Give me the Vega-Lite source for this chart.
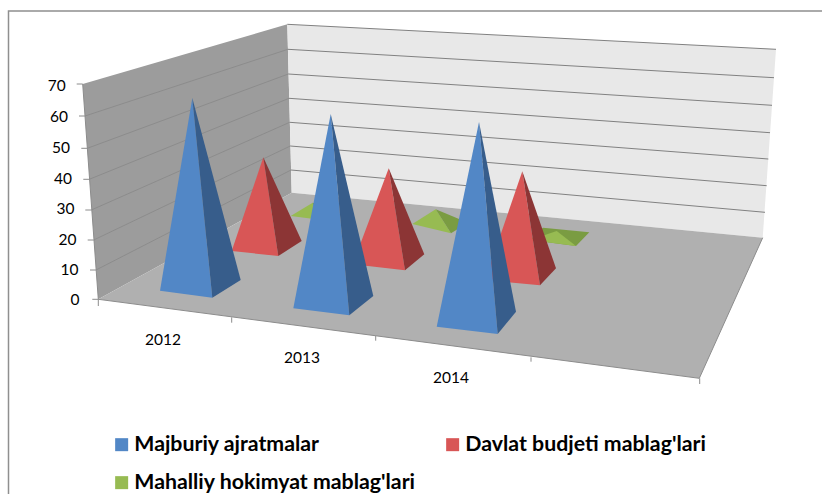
{"$schema":"https://vega.github.io/schema/vega-lite/v6.json","width":822,"height":494,"autosize":{"type":"none"},"padding":0,"background":"#ffffff","view":{"stroke":null},
"datasets":{
"surfaces":[
{"id":"left","face":"wall-left","i":0,"x":82.7,"y":84},{"id":"left","face":"wall-left","i":1,"x":287.3,"y":24.3},{"id":"left","face":"wall-left","i":2,"x":291.7,"y":192.7},{"id":"left","face":"wall-left","i":3,"x":98.3,"y":299.3},
{"id":"back","face":"wall-back","i":0,"x":287.3,"y":24.3},{"id":"back","face":"wall-back","i":1,"x":776,"y":49.3},{"id":"back","face":"wall-back","i":2,"x":762.7,"y":237.7},{"id":"back","face":"wall-back","i":3,"x":291.7,"y":192.7},
{"id":"floor","face":"floor","i":0,"x":98.3,"y":299.3},{"id":"floor","face":"floor","i":1,"x":291.7,"y":192.7},{"id":"floor","face":"floor","i":2,"x":762.7,"y":237.7},{"id":"floor","face":"floor","i":3,"x":699.3,"y":378.3}
],
"lines":[
{"id":"F1","kind":"frame","i":0,"x":8.5,"y":494},{"id":"F1","kind":"frame","i":1,"x":8.5,"y":11},{"id":"F1","kind":"frame","i":2,"x":822,"y":11},
{"id":"L60","kind":"side","i":0,"x":85,"y":116},{"id":"L60","kind":"side","i":1,"x":287.9,"y":49.3},
{"id":"L50","kind":"side","i":0,"x":87.3,"y":148.3},{"id":"L50","kind":"side","i":1,"x":288.3,"y":74},
{"id":"L40","kind":"side","i":0,"x":89.3,"y":179.3},{"id":"L40","kind":"side","i":1,"x":289,"y":98.3},
{"id":"L30","kind":"side","i":0,"x":91.3,"y":210},{"id":"L30","kind":"side","i":1,"x":289.7,"y":122.3},
{"id":"L20","kind":"side","i":0,"x":93.7,"y":240},{"id":"L20","kind":"side","i":1,"x":290.3,"y":146},
{"id":"L10","kind":"side","i":0,"x":96,"y":270},{"id":"L10","kind":"side","i":1,"x":291,"y":170},
{"id":"B70","kind":"back","i":0,"x":287.3,"y":24.3},{"id":"B70","kind":"back","i":1,"x":776,"y":49.3},
{"id":"B60","kind":"back","i":0,"x":287.9,"y":49.3},{"id":"B60","kind":"back","i":1,"x":774,"y":77.7},
{"id":"B50","kind":"back","i":0,"x":288.3,"y":74},{"id":"B50","kind":"back","i":1,"x":772,"y":105.3},
{"id":"B40","kind":"back","i":0,"x":289,"y":98.3},{"id":"B40","kind":"back","i":1,"x":770,"y":132.7},
{"id":"B30","kind":"back","i":0,"x":289.7,"y":122.3},{"id":"B30","kind":"back","i":1,"x":768.3,"y":159},
{"id":"B20","kind":"back","i":0,"x":290.3,"y":146},{"id":"B20","kind":"back","i":1,"x":766.7,"y":185.7},
{"id":"B10","kind":"back","i":0,"x":291,"y":170},{"id":"B10","kind":"back","i":1,"x":765,"y":212.3},
{"id":"XA","kind":"axis","i":0,"x":98.3,"y":299.3},{"id":"XA","kind":"axis","i":1,"x":699.3,"y":378.3},
{"id":"XB","kind":"axis","i":0,"x":699.3,"y":378.3},{"id":"XB","kind":"axis","i":1,"x":762.7,"y":237.7},
{"id":"YA","kind":"axis","i":0,"x":82.7,"y":84},{"id":"YA","kind":"axis","i":1,"x":98.3,"y":299.3},
{"id":"T70","kind":"axis","i":0,"x":76.7,"y":84},{"id":"T70","kind":"axis","i":1,"x":82.7,"y":84},
{"id":"T60","kind":"axis","i":0,"x":79,"y":116},{"id":"T60","kind":"axis","i":1,"x":85,"y":116},
{"id":"T50","kind":"axis","i":0,"x":81.3,"y":148.3},{"id":"T50","kind":"axis","i":1,"x":87.3,"y":148.3},
{"id":"T40","kind":"axis","i":0,"x":83.3,"y":179.3},{"id":"T40","kind":"axis","i":1,"x":89.3,"y":179.3},
{"id":"T30","kind":"axis","i":0,"x":85.3,"y":210},{"id":"T30","kind":"axis","i":1,"x":91.3,"y":210},
{"id":"T20","kind":"axis","i":0,"x":87.7,"y":240},{"id":"T20","kind":"axis","i":1,"x":93.7,"y":240},
{"id":"T10","kind":"axis","i":0,"x":90,"y":270},{"id":"T10","kind":"axis","i":1,"x":96,"y":270},
{"id":"T0","kind":"axis","i":0,"x":92.3,"y":299.3},{"id":"T0","kind":"axis","i":1,"x":98.3,"y":299.3},
{"id":"X0","kind":"axis","i":0,"x":98.3,"y":299.3},{"id":"X0","kind":"axis","i":1,"x":98.3,"y":306},
{"id":"X1","kind":"axis","i":0,"x":231.7,"y":317.3},{"id":"X1","kind":"axis","i":1,"x":231.7,"y":322.7},
{"id":"X2","kind":"axis","i":0,"x":375.7,"y":336},{"id":"X2","kind":"axis","i":1,"x":375.7,"y":340.7},
{"id":"X3","kind":"axis","i":0,"x":531,"y":357.3},{"id":"X3","kind":"axis","i":1,"x":531,"y":361.7},
{"id":"X4","kind":"axis","i":0,"x":699.7,"y":378.3},{"id":"X4","kind":"axis","i":1,"x":699.7,"y":384}
],
"labels":[
{"t":"70","x":65.7,"y":86},{"t":"60","x":68,"y":117},{"t":"50","x":70,"y":148},{"t":"40","x":72,"y":179},{"t":"30","x":74.5,"y":209},{"t":"20","x":76.5,"y":240},{"t":"10","x":78.5,"y":270},{"t":"0","x":79.5,"y":300}
],
"years":[{"t":"2012","x":163,"y":340},{"t":"2013","x":302,"y":358},{"t":"2014","x":451,"y":378}],
"faces":[
{"id":"g12a","face":"Mahalliy hokimyat mablag'lari","i":0,"x":290.7,"y":216},{"id":"g12a","face":"Mahalliy hokimyat mablag'lari","i":1,"x":312.7,"y":202.7},{"id":"g12a","face":"Mahalliy hokimyat mablag'lari","i":2,"x":318,"y":219.5},
{"id":"g12b","face":"green-dark","i":0,"x":312.7,"y":202.7},{"id":"g12b","face":"green-dark","i":1,"x":318,"y":219.5},{"id":"g12b","face":"green-dark","i":2,"x":332,"y":209},
{"id":"g13a","face":"Mahalliy hokimyat mablag'lari","i":0,"x":412.3,"y":224},{"id":"g13a","face":"Mahalliy hokimyat mablag'lari","i":1,"x":435.7,"y":209.3},{"id":"g13a","face":"Mahalliy hokimyat mablag'lari","i":2,"x":451,"y":233.3},
{"id":"g13b","face":"green-dark","i":0,"x":435.7,"y":209.3},{"id":"g13b","face":"green-dark","i":1,"x":451,"y":233.3},{"id":"g13b","face":"green-dark","i":2,"x":468,"y":222.7},
{"id":"g14c","face":"green-dark","i":0,"x":543,"y":227.7},{"id":"g14c","face":"green-dark","i":1,"x":589.3,"y":232.3},{"id":"g14c","face":"green-dark","i":2,"x":576,"y":246},{"id":"g14c","face":"green-dark","i":3,"x":530,"y":240},
{"id":"g14a","face":"Mahalliy hokimyat mablag'lari","i":0,"x":530,"y":240},{"id":"g14a","face":"Mahalliy hokimyat mablag'lari","i":1,"x":556.7,"y":231},{"id":"g14a","face":"Mahalliy hokimyat mablag'lari","i":2,"x":576,"y":246},
{"id":"r12a","face":"Davlat budjeti mablag'lari","i":0,"x":263.3,"y":157.3},{"id":"r12a","face":"Davlat budjeti mablag'lari","i":1,"x":231.7,"y":251},{"id":"r12a","face":"Davlat budjeti mablag'lari","i":2,"x":278.3,"y":256},
{"id":"r12b","face":"red-dark","i":0,"x":263.3,"y":157.3},{"id":"r12b","face":"red-dark","i":1,"x":278.3,"y":256},{"id":"r12b","face":"red-dark","i":2,"x":301.7,"y":241},
{"id":"r13a","face":"Davlat budjeti mablag'lari","i":0,"x":388.7,"y":168.3},{"id":"r13a","face":"Davlat budjeti mablag'lari","i":1,"x":352.7,"y":264.3},{"id":"r13a","face":"Davlat budjeti mablag'lari","i":2,"x":405,"y":270.3},
{"id":"r13b","face":"red-dark","i":0,"x":388.7,"y":168.3},{"id":"r13b","face":"red-dark","i":1,"x":405,"y":270.3},{"id":"r13b","face":"red-dark","i":2,"x":424.3,"y":254.3},
{"id":"r14a","face":"Davlat budjeti mablag'lari","i":0,"x":522.3,"y":171.3},{"id":"r14a","face":"Davlat budjeti mablag'lari","i":1,"x":485,"y":280},{"id":"r14a","face":"Davlat budjeti mablag'lari","i":2,"x":540,"y":285.3},
{"id":"r14b","face":"red-dark","i":0,"x":522.3,"y":171.3},{"id":"r14b","face":"red-dark","i":1,"x":540,"y":285.3},{"id":"r14b","face":"red-dark","i":2,"x":556,"y":268.3},
{"id":"b12a","face":"Majburiy ajratmalar","i":0,"x":192.3,"y":98},{"id":"b12a","face":"Majburiy ajratmalar","i":1,"x":160,"y":290.7},{"id":"b12a","face":"Majburiy ajratmalar","i":2,"x":212.3,"y":297.7},
{"id":"b12b","face":"blue-dark","i":0,"x":192.3,"y":98},{"id":"b12b","face":"blue-dark","i":1,"x":212.3,"y":297.7},{"id":"b12b","face":"blue-dark","i":2,"x":240.7,"y":280},
{"id":"b13a","face":"Majburiy ajratmalar","i":0,"x":330.7,"y":114},{"id":"b13a","face":"Majburiy ajratmalar","i":1,"x":293.3,"y":308.3},{"id":"b13a","face":"Majburiy ajratmalar","i":2,"x":349.3,"y":315.3},
{"id":"b13b","face":"blue-dark","i":0,"x":330.7,"y":114},{"id":"b13b","face":"blue-dark","i":1,"x":349.3,"y":315.3},{"id":"b13b","face":"blue-dark","i":2,"x":373.3,"y":296},
{"id":"b14a","face":"Majburiy ajratmalar","i":0,"x":479,"y":122},{"id":"b14a","face":"Majburiy ajratmalar","i":1,"x":436.7,"y":326.7},{"id":"b14a","face":"Majburiy ajratmalar","i":2,"x":497.7,"y":334},
{"id":"b14b","face":"blue-dark","i":0,"x":479,"y":122},{"id":"b14b","face":"blue-dark","i":1,"x":497.7,"y":334},{"id":"b14b","face":"blue-dark","i":2,"x":516,"y":311.7}
]},
"encoding":{
"x":{"field":"x","type":"quantitative","scale":{"domain":[0,822],"nice":false,"zero":false},"axis":null},
"y":{"field":"y","type":"quantitative","scale":{"domain":[494,0],"nice":false,"zero":false},"axis":null}},
"layer":[
{"data":{"name":"surfaces"},"mark":{"type":"line","strokeWidth":0,"interpolate":"linear-closed"},"encoding":{"detail":{"field":"id"},"order":{"field":"i","type":"quantitative"},"fill":{"field":"face","type":"nominal","scale":{"domain":["Majburiy ajratmalar","Davlat budjeti mablag'lari","Mahalliy hokimyat mablag'lari","blue-dark","red-dark","green-dark","wall-left","wall-back","floor"],"range":["#5287C6","#D85656","#97BB52","#375D8B","#8C3535","#7A9C42","#9C9C9C","#E8E8E8","#B0B0B0"]},"legend":{"values":["Majburiy ajratmalar","Davlat budjeti mablag'lari","Mahalliy hokimyat mablag'lari"],"title":null,"orient":"none","direction":"horizontal","legendX":111,"legendY":434,"columns":2,"symbolType":"square","symbolSize":169,"symbolStrokeWidth":0,"symbolOpacity":1,"labelFont":"Lato","labelFontWeight":"bold","labelFontSize":21.3,"labelColor":"#000000","labelLimit":400,"columnPadding":26,"rowPadding":16,"labelOffset":2}}}},
{"data":{"name":"lines"},"transform":[{"filter":"datum.kind==='frame'"}],"mark":{"type":"line","stroke":"#8F8F8F","strokeWidth":1.5},"encoding":{"detail":{"field":"id"},"order":{"field":"i","type":"quantitative"}}},
{"data":{"name":"lines"},"transform":[{"filter":"datum.kind==='side'"}],"mark":{"type":"line","stroke":"#8C8C8C","strokeWidth":1},"encoding":{"detail":{"field":"id"},"order":{"field":"i","type":"quantitative"}}},
{"data":{"name":"lines"},"transform":[{"filter":"datum.kind==='back'"}],"mark":{"type":"line","stroke":"#808080","strokeWidth":1},"encoding":{"detail":{"field":"id"},"order":{"field":"i","type":"quantitative"}}},
{"data":{"name":"lines"},"transform":[{"filter":"datum.kind==='axis'"}],"mark":{"type":"line","stroke":"#8C8C8C","strokeWidth":1},"encoding":{"detail":{"field":"id"},"order":{"field":"i","type":"quantitative"}}},
{"data":{"name":"faces"},"mark":{"type":"line","strokeWidth":0,"interpolate":"linear-closed"},"encoding":{"detail":{"field":"id"},"order":{"field":"i","type":"quantitative"},"fill":{"field":"face","type":"nominal"}}},
{"data":{"name":"labels"},"mark":{"type":"text","align":"right","baseline":"middle","font":"Lato","fontSize":15.5,"color":"#000000"},"encoding":{"text":{"field":"t"}}},
{"data":{"name":"years"},"mark":{"type":"text","align":"center","baseline":"middle","font":"Lato","fontSize":15.5,"color":"#000000"},"encoding":{"text":{"field":"t"}}}
]}
